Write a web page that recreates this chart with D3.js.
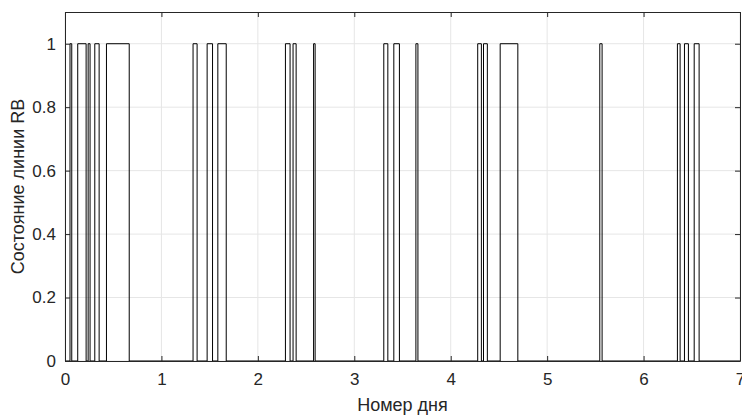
<!DOCTYPE html>
<html>
<head>
<meta charset="utf-8">
<script src="https://cdn.jsdelivr.net/npm/d3@7"></script>
<style>
  body { margin: 0; background: #fff; }
  text { font-family: "Liberation Sans", Arial, sans-serif; fill: #262626; }
</style>
</head>
<body>
<script>
// pulse starts / ends (day number) where the line state is 1
var onStart = [0.052, 0.132, 0.240, 0.309, 0.430, 1.328, 1.474, 1.585, 2.286, 2.365, 2.578,
               3.306, 3.410, 3.639, 4.280, 4.340, 4.513, 5.546, 6.351, 6.424, 6.525];
var onEnd   = [0.070, 0.219, 0.260, 0.354, 0.666, 1.370, 1.530, 1.672, 2.334, 2.397, 2.594,
               3.348, 3.468, 3.660, 4.318, 4.380, 4.696, 5.570, 6.379, 6.465, 6.576];
var xTicks = [0, 1, 2, 3, 4, 5, 6, 7];
var yTicks = [0, 0.2, 0.4, 0.6, 0.8, 1];

// margin
var margin = {top: 12, right: 2, bottom: 56, left: 65},
    width = 742 - margin.left - margin.right,
    height = 417 - margin.top - margin.bottom;

var svg = d3.select("body").append("svg")
    .attr("width", 742)
    .attr("height", 417)
  .append("g")
    .attr("transform", "translate(" + margin.left + "," + margin.top + ")");

var x = d3.scaleLinear().domain([0, 7]).range([0, width]);
var y = d3.scaleLinear().domain([0, 1.1]).range([height, 0]);

// build step data
var pts = [{t: 0, v: 0}];
onStart.forEach(function(s, i) {
  pts.push({t: s, v: 1});
  pts.push({t: onEnd[i], v: 0});
});
pts.push({t: 7, v: 0});

// grid
svg.append("g").selectAll("line").data(xTicks).enter().append("line")
    .attr("x1", function(d) { return x(d); }).attr("x2", function(d) { return x(d); })
    .attr("y1", 0).attr("y2", height)
    .attr("stroke", "#e6e6e6");
svg.append("g").selectAll("line").data(yTicks).enter().append("line")
    .attr("y1", function(d) { return y(d); }).attr("y2", function(d) { return y(d); })
    .attr("x1", 0).attr("x2", width)
    .attr("stroke", "#e6e6e6");

// line
var line = d3.line()
    .x(function(d) { return x(d.t); })
    .y(function(d) { return y(d.v); })
    .curve(d3.curveStepAfter);

svg.append("path")
    .datum(pts)
    .attr("d", line)
    .attr("fill", "none")
    .attr("stroke", "#000")
    .attr("stroke-width", 1);

// axes
var fmt = function(d) { return String(d); };
svg.append("g")
    .attr("transform", "translate(0," + height + ")")
    .call(d3.axisBottom(x).tickValues(xTicks).tickSizeInner(-5).tickSizeOuter(0).tickPadding(12)
      .tickFormat(fmt));
svg.append("g")
    .call(d3.axisLeft(y).tickValues(yTicks).tickSizeInner(-5).tickSizeOuter(0).tickPadding(9)
      .tickFormat(fmt));
svg.append("g")
    .call(d3.axisTop(x).tickValues(xTicks).tickSizeInner(-5).tickSizeOuter(0).tickFormat(""));
svg.append("g")
    .attr("transform", "translate(" + width + ",0)")
    .call(d3.axisRight(y).tickValues(yTicks).tickSizeInner(-5).tickSizeOuter(0).tickFormat(""));

svg.selectAll(".domain").attr("stroke", "#262626");
svg.selectAll(".tick line").attr("stroke", "#262626");
svg.selectAll(".tick text").style("font-size", "17px").attr("fill", "#262626");

// labels
svg.append("text")
    .attr("x", width / 2)
    .attr("y", height + 50)
    .attr("text-anchor", "middle")
    .style("font-size", "18px")
    .text("Номер дня");

svg.append("text")
    .attr("transform", "translate(" + (-41) + "," + (height / 2) + ") rotate(-90)")
    .attr("text-anchor", "middle")
    .style("font-size", "18px")
    .text("Состояние линии RB");
</script>
</body>
</html>
